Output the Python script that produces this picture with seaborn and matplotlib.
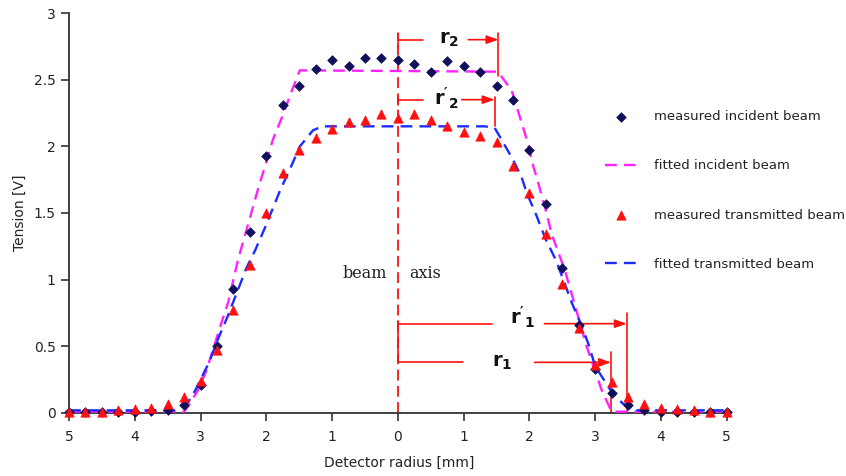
import numpy as np
import pandas as pd
import matplotlib
matplotlib.use("Agg")
import matplotlib.pyplot as plt
import seaborn as sns

# ---------------- data ----------------
radius = [-5.0, -4.75, -4.5, -4.25, -4.0, -3.75, -3.5, -3.25, -3.0, -2.75,
          -2.5, -2.25, -2.0, -1.75, -1.5, -1.25, -1.0, -0.75, -0.5, -0.25,
          0.0, 0.25, 0.5, 0.75, 1.0, 1.25, 1.5, 1.75, 2.0, 2.25,
          2.5, 2.75, 3.0, 3.25, 3.5, 3.75, 4.0, 4.25, 4.5, 4.75, 5.0]
measured_incident = [0.01, 0.01, 0.01, 0.01, 0.01, 0.015, 0.02, 0.06, 0.21, 0.50,
                     0.93, 1.36, 1.93, 2.31, 2.45, 2.58, 2.65, 2.60, 2.66, 2.66,
                     2.65, 2.62, 2.56, 2.64, 2.60, 2.56, 2.45, 2.35, 1.97, 1.57,
                     1.09, 0.66, 0.33, 0.15, 0.06, 0.02, 0.01, 0.01, 0.01, 0.01, 0.01]
measured_transmitted = [0.005, 0.01, 0.01, 0.02, 0.03, 0.04, 0.07, 0.12, 0.24, 0.47,
                        0.77, 1.11, 1.50, 1.80, 1.97, 2.06, 2.13, 2.18, 2.20, 2.24,
                        2.21, 2.24, 2.20, 2.15, 2.11, 2.08, 2.03, 1.85, 1.65, 1.34,
                        0.97, 0.64, 0.36, 0.23, 0.12, 0.07, 0.04, 0.03, 0.02, 0.01, 0.005]

fit_inc_x = [-5.0, -3.25, -3.19, -3.04, -2.91, -2.68, -2.58, -2.43, -2.28, -2.12,
             -2.02, -1.90, -1.76, -1.61, -1.49, 1.52, 1.73, 1.88, 1.98, 2.06,
             2.16, 2.26, 2.34, 2.54, 2.87, 3.10, 3.25, 5.0]
fit_inc_y = [0.01, 0.01, 0.05, 0.17, 0.32, 0.68, 0.83, 1.15, 1.41, 1.69,
             1.85, 2.05, 2.22, 2.42, 2.57, 2.56, 2.42, 2.18, 2.02, 1.85,
             1.68, 1.50, 1.34, 1.07, 0.50, 0.17, 0.01, 0.01]

fit_tr_x = [-5.0, -3.39, -3.19, -3.08, -2.87, -2.73, -2.60, -2.45, -2.30, -2.17,
            -2.02, -1.79, -1.64, -1.49, -1.29, -1.15, 1.32, 1.47, 1.60, 1.75,
            1.88, 1.96, 2.10, 2.25, 2.41, 2.65, 2.79, 2.91, 3.00, 3.25,
            3.42, 3.60, 5.0]
fit_tr_y = [0.02, 0.02, 0.08, 0.17, 0.38, 0.56, 0.71, 0.90, 1.09, 1.22,
            1.39, 1.67, 1.83, 2.00, 2.12, 2.15, 2.15, 2.14, 2.03, 1.90,
            1.77, 1.65, 1.49, 1.30, 1.14, 0.82, 0.66, 0.50, 0.35, 0.16,
            0.07, 0.02, 0.02]

series_labels = ["measured incident beam", "fitted incident beam",
                 "measured transmitted beam", "fitted transmitted beam"]
x_ticks = [-5, -4, -3, -2, -1, 0, 1, 2, 3, 4, 5]
x_tick_labels = ["5", "4", "3", "2", "1", "0", "1", "2", "3", "4", "5"]
y_ticks = [0, 0.5, 1, 1.5, 2, 2.5, 3]
y_tick_labels = ["0", "0.5", "1", "1.5", "2", "2.5", "3"]

# bracket values (radii)
r2, r2p, r1, r1p = 1.53, 1.47, 3.24, 3.48

# ---------------- style ----------------
sns.set_theme(style="ticks")
plt.rcParams["font.family"] = ["DejaVu Sans"]
plt.rcParams["mathtext.fontset"] = "custom"
plt.rcParams["mathtext.rm"] = "DejaVu Sans"
plt.rcParams["mathtext.bf"] = "DejaVu Sans:bold"

fig = plt.figure(figsize=(8.46, 4.76), dpi=100)
ax = fig.add_axes([69 / 846, 63 / 476, (730 - 69) / 846, 400 / 476])

df_m = pd.DataFrame({"r": radius, "inc": measured_incident, "tr": measured_transmitted})
df_fi = pd.DataFrame({"x": fit_inc_x, "y": fit_inc_y})
df_ft = pd.DataFrame({"x": fit_tr_x, "y": fit_tr_y})

navy = "#10105a"
red = "#ff1010"
magenta = "#ff22ff"
blue = "#1a2cff"

sns.scatterplot(data=df_m, x="r", y="inc", marker="D", s=24, color=navy,
                edgecolor=navy, linewidth=0.5, ax=ax, label=series_labels[0], zorder=4)
sns.lineplot(data=df_fi, x="x", y="y", sort=False, estimator=None, color=magenta,
             lw=1.7, ax=ax, label=series_labels[1], zorder=3)
sns.scatterplot(data=df_m, x="r", y="tr", marker="^", s=45, color=red,
                edgecolor=red, linewidth=0.5, ax=ax, label=series_labels[2], zorder=5)
sns.lineplot(data=df_ft, x="x", y="y", sort=False, estimator=None, color=blue,
             lw=1.7, ax=ax, label=series_labels[3], zorder=3)
ax.lines[0].set_dashes((5, 3))
ax.lines[1].set_dashes((5, 3))

# beam axis
ax.plot([0, 0], [0, 2.85], color=red, lw=1.3, dashes=(6, 3), zorder=2)
ax.text(-0.5, 1.05, "beam", family="DejaVu Serif", fontsize=11.5, ha="center", va="center", color="#222222")
ax.text(0.42, 1.05, "axis", family="DejaVu Serif", fontsize=11.5, ha="center", va="center", color="#222222")

# brackets
arrow_kw = dict(arrowstyle="-|>,head_length=0.7,head_width=0.25", color=red, lw=1.2,
                shrinkA=0, shrinkB=0, mutation_scale=10)

def bracket(y, xend, gap0, gap1, ytop, ybot, label, tx, ty, left=None):
    ax.plot([0, gap0], [y, y], color=red, lw=1.2, zorder=2)
    ax.annotate("", xy=(xend, y), xytext=(gap1, y), arrowprops=arrow_kw, zorder=2)
    ax.plot([xend, xend], [ytop, ybot], color=red, lw=1.2, zorder=2)
    if left is not None:
        ax.plot([0, 0], left, color=red, lw=1.2, zorder=2)
    ax.text(tx, ty, label, fontsize=14, fontweight="bold", ha="center", va="baseline", color="#111111")

bracket(2.80, r2, 0.38, 1.07, 2.85, 2.53, r"$\mathbf{r_2}$", 0.78, 2.77, left=(2.85, 2.74))
bracket(2.35, r2p, 0.38, 0.97, 2.37, 2.15, r"$\mathbf{r'_2}$", 0.74, 2.31, left=(2.37, 2.31))
bracket(0.67, r1p, 1.43, 2.23, 0.75, 0.0, r"$\mathbf{r'_1}$", 1.90, 0.66, left=(0.69, 0.38))
bracket(0.38, r1, 0.99, 2.08, 0.46, 0.0, r"$\mathbf{r_1}$", 1.58, 0.35)

# axes
ax.set_xlim(-5, 5.05)
ax.set_ylim(0, 3)
ax.set_xticks(x_ticks)
ax.set_xticklabels(x_tick_labels)
ax.set_yticks(y_ticks)
ax.set_yticklabels(y_tick_labels)
ax.tick_params(axis="both", labelsize=10, length=6, width=1.2, color="#333333", labelcolor="#222222")
ax.tick_params(axis="x", pad=6)
ax.set_xlabel("Detector radius [mm]", fontsize=10, color="#222222", labelpad=9)
ax.set_ylabel("Tension [V]", fontsize=10, color="#222222", labelpad=5)
for s in ("top", "right"):
    ax.spines[s].set_visible(False)
for s in ("left", "bottom"):
    ax.spines[s].set_color("#333333")
    ax.spines[s].set_linewidth(1.3)
ax.set_facecolor("none")
for c in ax.collections:
    c.set_clip_on(False)

handles, labels = ax.get_legend_handles_labels()
ax.get_legend().remove()
fig.legend(handles, labels, loc="upper left", bbox_to_anchor=(605 / 846, 1 - 110 / 476),
           bbox_transform=fig.transFigure, frameon=False, borderpad=0, borderaxespad=0,
           handlelength=2.4, handletextpad=1.3, labelspacing=2.75, fontsize=9.5,
           labelcolor="#222222")

fig.savefig("out.png", dpi=100, facecolor="white")
